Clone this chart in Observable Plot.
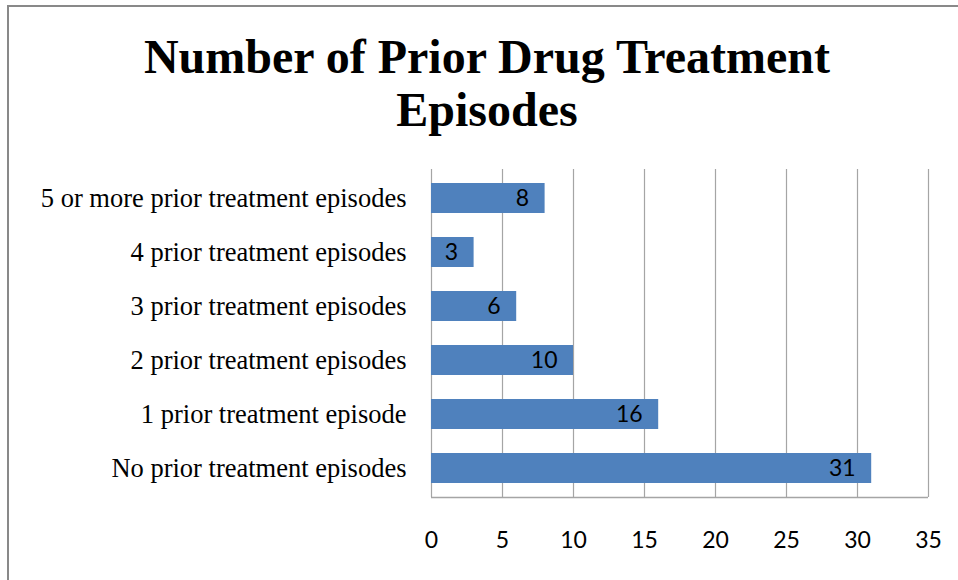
<!DOCTYPE html>
<html><head><meta charset="utf-8">
<script src="https://cdn.jsdelivr.net/npm/d3@7"></script>
<script src="https://cdn.jsdelivr.net/npm/@observablehq/plot@0.6"></script>
<style>
html,body{margin:0;padding:0;background:#fff;}
#wrap{position:relative;width:958px;height:580px;overflow:hidden;background:#fff;}
#border{position:absolute;left:7px;top:5px;width:1000px;height:1000px;border-left:2px solid #898989;border-top:2px solid #898989;}
#title{position:absolute;left:0;top:30px;width:974px;text-align:center;font-family:"Liberation Serif",serif;font-weight:bold;font-size:48px;line-height:53px;color:#000;}
#chart{position:absolute;left:0;top:0;}
</style>
</head><body>
<div id="wrap">
  <div id="border"></div>
  <div id="chart"></div>
  <div id="title">Number of Prior Drug Treatment<br>Episodes</div>
</div>
<script>
const categories = [
  "5 or more prior treatment episodes",
  "4 prior treatment episodes",
  "3 prior treatment episodes",
  "2 prior treatment episodes",
  "1 prior treatment episode",
  "No prior treatment episodes"
];
const counts = [8, 3, 6, 10, 16, 31];
const xTicks = [0, 5, 10, 15, 20, 25, 30, 35];

const data = categories.map((c, i) => ({category: c, count: counts[i]}));

const bottomLine = (index, scales, values, dims) => {
  const y = dims.height - dims.marginBottom + 0.5;
  return d3.create("svg:line")
    .attr("x1", scales.x(0)).attr("x2", scales.x(35))
    .attr("y1", y).attr("y2", y)
    .attr("stroke", "#a5a5a5").attr("stroke-width", 1.5)
    .node();
};

const chart = Plot.plot({
  width: 958, height: 580,
  marginLeft: 431, marginRight: 30, marginTop: 169, marginBottom: 83,
  style: {background: "transparent", color: "black", overflow: "visible"},
  x: {domain: [0, 35], ticks: xTicks, label: null},
  y: {domain: categories, paddingInner: 0.44, paddingOuter: 0.22, label: null},
  marks: [
    Plot.ruleX(xTicks, {stroke: "#a5a5a5", strokeWidth: 1.2}),
    Plot.barX(data, {x: "count", y: "category", fill: "#4F81BD"}),
    Plot.text(data, {x: "count", y: "category", text: d => String(d.count), textAnchor: "end", dx: -16, fontSize: 23, fontFamily: "Lato", fill: "black"}),
    bottomLine,
    Plot.axisX({ticks: xTicks, tickSize: 0, tickPadding: 34, fontSize: 23, fontFamily: "Lato", label: null}),
    Plot.axisY({tickSize: 0, tickPadding: 25, fontSize: 26.5, fontFamily: "Liberation Serif", label: null})
  ]
});
document.getElementById("chart").appendChild(chart);
</script>
</body></html>
